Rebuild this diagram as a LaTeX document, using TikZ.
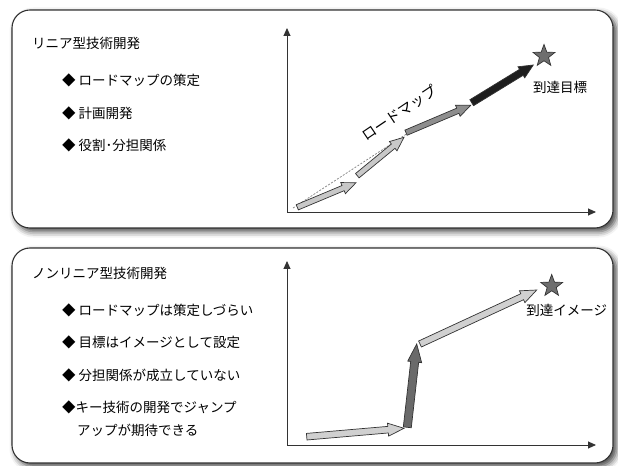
\documentclass[tikz,border=0pt]{standalone}
\usepackage{fontspec}
\setmainfont{Noto Sans CJK JP}
\usetikzlibrary{calc,shapes.geometric,arrows.meta,shadows.blur}
\definecolor{lineC}{HTML}{333333}
\definecolor{lightA}{HTML}{C8C8C8}
\definecolor{midA}{HTML}{8E8E8E}
\definecolor{darkA}{HTML}{6A6A6A}
\definecolor{blackA}{HTML}{1E1E1E}
\definecolor{starC}{HTML}{6E6E6E}
\newcommand\fatarr[6]{%
  \coordinate (fa-h) at ($(#2)!#5!(#1)$);
  \draw[#6] ($(#1)!#3!90:(#2)$) -- ($(fa-h)!#3!90:(#2)$) -- ($(fa-h)!#4!90:(#2)$) -- (#2)
    -- ($(fa-h)!#4!-90:(#2)$) -- ($(fa-h)!#3!-90:(#2)$) -- ($(#1)!#3!-90:(#2)$) -- cycle;}
\tikzset{
  panel/.style={draw=lineC, line width=1.1bp, fill=white, rounded corners=18bp,
    blur shadow={shadow xshift=3.5bp, shadow yshift=-3.5bp, shadow blur radius=6bp, shadow opacity=75}},
  axis/.style={draw=lineC, line width=0.9bp, -{Triangle[length=8bp,width=7bp]}},
  farrow/.style={draw=lineC, line width=0.7bp, line join=miter},
  txt/.style={anchor=west, inner sep=0pt, font=\fontsize{13.5bp}{16bp}\selectfont},
  lbl/.style={inner sep=0pt, font=\fontsize{13.5bp}{16bp}\selectfont},
  goal/.style={star, star points=5, star point ratio=2.4, minimum size=23bp, inner sep=0pt,
    fill=starC, draw=lineC, line width=0.7bp}
}
\begin{document}
\begin{tikzpicture}[x=1bp, y=-1bp]
\useasboundingbox (0,0) rectangle (618,466);
% panels
\path[panel] (12,10) rectangle (613,228);
\path[panel] (12,248) rectangle (613,463);

% ---------- top panel ----------
\node[txt] (t1) at (32,43) {リニア型技術開発};
\node[txt] (t1a) at (62,80) {◆ ロードマップの策定};
\node[txt] (t1b) at (62,113) {◆ 計画開発};
\node[txt] (t1c) at (62,145) {◆ 役割･分担関係};

\coordinate (o1) at (287,212);
\coordinate (y1) at (287,28);
\coordinate (x1) at (596,212);
\draw[axis] (o1) -- (y1);
\draw[axis] (o1) -- (x1);

\coordinate (d0) at (293,208);
\coordinate (d1) at (408,133);
\draw[gray, line width=0.7bp, dash pattern=on 2bp off 1.5bp] (d0) -- (d1);

\coordinate (a1s) at (297.3,207.3); \coordinate (a1e) at (356,182.7);
\coordinate (a2s) at (357.3,175.7); \coordinate (a2e) at (404,137.3);
\coordinate (a3s) at (406,132.7);   \coordinate (a3e) at (470.7,105.3);
\coordinate (a4s) at (471.7,102.7); \coordinate (a4e) at (533.3,65);
\fatarr{a1s}{a1e}{2.8bp}{6bp}{14bp}{farrow, fill=lightA}
\fatarr{a2s}{a2e}{2.8bp}{6bp}{14bp}{farrow, fill=lightA}
\fatarr{a3s}{a3e}{2.8bp}{6bp}{14bp}{farrow, fill=midA}
\fatarr{a4s}{a4e}{3.5bp}{6.5bp}{14bp}{farrow, fill=blackA}

\node[lbl, rotate=34, font=\fontsize{14.5bp}{17bp}\selectfont] (rm) at (399,113) {ロードマップ};
\node[goal] (s1) at (544,56) {};
\node[lbl] (g1) at (560,87) {到達目標};

% ---------- bottom panel ----------
\node[txt] (t2) at (32,273) {ノンリニア型技術開発};
\node[txt] (t2a) at (62,310) {◆ ロードマップは策定しづらい};
\node[txt] (t2b) at (62,342) {◆ 目標はイメージとして設定};
\node[txt] (t2c) at (62,375) {◆ 分担関係が成立していない};
\node[txt] (t2d) at (62,407) {◆キー技術の開発でジャンプ};
\node[txt] (t2e) at (77,430) {アップが期待できる};

\coordinate (o2) at (287,445);
\coordinate (y2) at (287,261);
\coordinate (x2) at (596,445);
\draw[axis] (o2) -- (y2);
\draw[axis] (o2) -- (x2);

\coordinate (b1s) at (306.7,436.7); \coordinate (b1e) at (404,428.3);
\coordinate (b2s) at (407.3,427.3); \coordinate (b2e) at (416.7,344);
\coordinate (b3s) at (420,344);     \coordinate (b3e) at (536.7,290);
\fatarr{b1s}{b1e}{3.3bp}{6.5bp}{16bp}{farrow, fill=lightA!85!white}
\fatarr{b2s}{b2e}{4bp}{7bp}{18bp}{farrow, fill=darkA}
\fatarr{b3s}{b3e}{3.3bp}{6.5bp}{16bp}{farrow, fill=lightA!85!white}

\node[goal] (s2) at (551.7,286) {};
\node[lbl] (g2) at (566.7,310.7) {到達イメージ};
\end{tikzpicture}
\end{document}
